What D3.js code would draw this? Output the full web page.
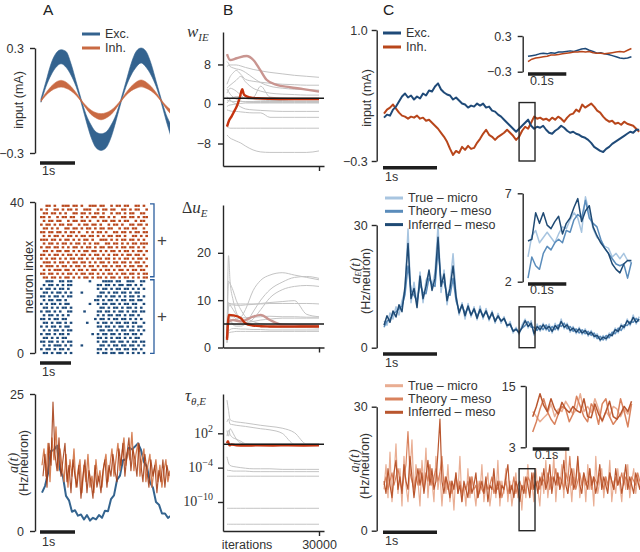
<!DOCTYPE html>
<html>
<head>
<meta charset="utf-8">
<script src="https://d3js.org/d3.v7.min.js"></script>
<style>
  body { margin: 0; background: #fff; }
  svg { display: block; background: #fff; }
  text { font-family: "Liberation Sans", Arial, sans-serif; fill: #333; }
  .tick text { font-size: 12.5px; }
  .axis path, .axis line { stroke: #262626; stroke-width: 1.4px; }
  .math { font-family: "Liberation Serif", "DejaVu Serif", serif; font-style: italic; }
  .grey { fill: none; stroke: #c4c4c4; stroke-width: 1px; }
  .bar { stroke: #1e1e1e; stroke-width: 3.5px; }
  .lbl { font-size: 12.5px; }
</style>
</head>
<body>
<svg width="640" height="552"></svg>
<script>
// ---------- data: panel A ----------
// sinusoidal input band (upper / lower edges), sampled every aTopStep s
const aTopStep = 0.143, aTopStart = 0.029;
const excHi = [0.01, 0.11, 0.21, 0.27, 0.29, 0.28, 0.21, 0.11, 0.01, -0.08, -0.14, -0.18, -0.19, -0.18, -0.14, -0.08, 0.01, 0.11, 0.21, 0.28, 0.30, 0.28, 0.21, 0.11, 0.01, -0.08, -0.14];
const excLo = [-0.01, 0.08, 0.145, 0.19, 0.21, 0.19, 0.145, 0.08, -0.01, -0.115, -0.21, -0.27, -0.285, -0.27, -0.21, -0.115, -0.01, 0.08, 0.145, 0.19, 0.215, 0.19, 0.145, 0.08, -0.01, -0.115, -0.21];
const inhHi = [0.005, 0.045, 0.08, 0.105, 0.115, 0.105, 0.08, 0.045, 0.005, -0.03, -0.055, -0.07, -0.075, -0.07, -0.055, -0.03, 0.005, 0.045, 0.08, 0.105, 0.117, 0.105, 0.08, 0.045, 0.005, -0.03, -0.055];
const inhLo = [-0.005, 0.03, 0.055, 0.07, 0.077, 0.07, 0.055, 0.03, -0.005, -0.045, -0.08, -0.1, -0.11, -0.1, -0.08, -0.045, -0.005, 0.03, 0.055, 0.07, 0.078, 0.07, 0.055, 0.03, -0.005, -0.045, -0.08];

// raster: one string per neuron (top row first), 40 time bins, 1 = spike
const rasterBin = 0.0871;
const inhSpikes = [
  "0011010011 1011010011 1011001011 0110011010",
  "1010011010 1101001110 0101101100 1101011001",
  "0110110101 0011011010 1101001011 0101100110",
  "1101001011 0110010101 1011010100 1101101011",
  "0101101100 1011011010 0101101101 0110010110",
  "1011010110 1100101101 1010010110 1001101101",
  "0110101001 1011010110 1011011001 0110110010",
  "1101101101 0110100101 0110100110 1101011011",
  "0101011010 1101011011 0101011011 0100110101",
  "1110110101 1010101101 0011101010 1101101010",
  "0101101011 0101101010 1100110110 1010110111",
  "1011011010 1011010110 1011011010 1101101010",
  "0110101101 1010101101 1010101101 0110101101",
  "1101011010 1101011010 1101010110 1011011010",
  "1010110101 0110110101 0110110101 0110101101",
  "0111010110 1011011010 1011010110 1101011010",
  "1011101011 0101101011 0101101011 0101101101",
  "0101011101 1010110101 1010110101 1010110110",
  "1101101010 1101011011 0101011010 1101101011",
  "0110110101 1010101101 0110101101 0110101011"
];
const excSpikes = [
  "0011100110 1100000010 0001111011 0011100110",
  "0101101010 1100000000 0110110101 1011010100",
  "1011010110 1000000000 0101101011 0110101010",
  "0110101101 0100010000 0011010110 1101011000",
  "1101011010 1100000000 0110101101 0101101010",
  "0101101101 0000000000 1101011010 1101101100",
  "1010110101 1000000010 0101101101 0110110010",
  "0110101011 0100000000 0011010110 1011010100",
  "1011010100 1100001000 0110110101 1010110110",
  "0101101010 1000000000 0101011011 0101101000",
  "1101011011 0000000000 1011010110 1101010100",
  "0110101101 0100000100 0101101011 0110110010",
  "1010110101 1000000000 0110110101 1010101100",
  "0101011010 1100000000 0011011010 1101101010",
  "1011010110 1000000001 0101101101 0110110100",
  "0110101011 0000000000 0110101011 0101011000",
  "1101101010 1100000000 0101101101 1010110110",
  "0101011101 0100010000 0011010110 1101101010",
  "1011010110 1000000000 0110101011 0110110100",
  "0110101101 0100000000 0101101101 1010101010"
];

// population activity a(t) in Hz/neuron
const aExcStep = 0.0857, aExcStart = 0.057;
const aExc = [7.0, 8.2, 10.5, 14.6, 14.8, 15.6, 11.2, 9.9, 6.4, 5.6, 3.5, 3.8, 2.8, 3.0, 2.1, 2.9, 1.9, 2.4, 2.1, 2.9, 2.4, 3.7, 3.6, 5.8, 6.5, 9.3, 10.1, 12.9, 13.1, 15.2, 14.9, 15.4, 16.0, 14.8, 12.6, 11.7, 8.9, 7.9, 5.3, 4.8, 3.2, 3.2, 2.4, 2.8];
const aInhStep = 0.0571;
const aInhTrue = [12, 15, 10, 16, 9, 17, 13, 19, 11, 15, 12, 9, 14, 8, 13, 10, 15, 8, 11, 13, 7, 12, 9, 14, 8, 10, 7, 13, 9, 11, 8, 12, 14, 9, 12, 15, 10, 13, 16, 11, 14, 17, 12, 15, 13, 18, 11, 14, 16, 10, 13, 15, 9, 12, 14, 8, 11, 13, 9, 12, 8, 11, 13, 9, 11];
const aInhInf = [10, 14, 8, 16, 12, 23.5, 14, 11, 17, 10, 13, 16, 9, 12, 7, 13, 10, 8, 12, 6, 10, 13, 7, 11, 9, 6, 12, 8, 10, 7, 11, 13, 8, 12, 10, 14, 11, 9, 15, 12, 16, 10, 14, 17, 11, 15, 13, 10, 16, 12, 9, 14, 11, 8, 13, 10, 12, 7, 11, 9, 13, 8, 12, 10];

// ---------- data: panel B (learning curves) ----------
const bIters = [0, 500, 1000, 2000, 3000, 4500, 6000, 8500, 11000, 14000, 18000, 22000, 26000, 30000];
const wieGrey = [
  [7.6, 7.8, 7.9, 7.9, 7.9, 7.7, 7.4, 7.0, 6.7, 6.4, 6.1, 5.8, 5.6, 5.4],
  [8.6, 8.2, 7.6, 7.3, 7.1, 6.9, 6.4, 5.3, 4.3, 3.6, 3.2, 3.0, 2.9, 2.8],
  [3.2, 3.5, 3.8, 4.3, 4.8, 5.6, 4.5, 3.2, 2.6, 2.2, 2.0, 1.9, 1.8, 1.8],
  [0.8, 0.7, 0.6, 0.5, 0.5, 0.5, 0.5, 0.5, 0.5, 0.5, 0.5, 0.5, 0.5, 0.5],
  [-1.2, -1.3, -1.4, -1.5, -1.5, -1.6, -1.7, -1.8, -1.8, -2.7, -2.7, -2.7, -2.7, -2.7],
  [-4.6, -4.8, -4.9, -4.9, -4.9, -4.9, -4.9, -4.9, -4.9, -4.9, -4.9, -4.9, -4.9, -4.9],
  [-6.3, -6.6, -6.9, -7.2, -7.5, -7.9, -8.5, -9.3, -9.7, -9.8, -9.8, -9.8, -9.8, -9.5],
  [2.2, 2.8, 3.2, 3.0, 2.6, 1.8, 1.1, 0.9, 0.8, 0.7, 0.7, 0.6, 0.6, 0.6],
  [3.0, 2.5, 2.0, 1.4, 1.0, 0.6, 0.4, 0.3, 0.3, 0.3, 0.3, 0.3, 0.3, 0.3],
  [0.2, 0.6, 1.0, 1.3, 1.5, 1.4, 1.2, 1.3, 3.6, 1.4, 1.2, 1.1, 1.1, 1.1],
  [-0.5, -0.3, -0.2, -0.1, 0.0, 0.1, 0.2, 0.2, 0.2, 0.2, 0.2, 0.2, 0.2, 0.2],
  [1.5, 1.1, 0.8, 0.3, 0.0, -0.6, -1.0, -1.2, -1.3, -1.4, -1.5, -1.5, -1.5, -1.5],
  [4.0, 4.8, 5.5, 6.3, 6.8, 6.0, 5.0, 4.6, 4.4, 4.2, 4.0, 3.9, 3.8, 3.8]
];
const wieRedIters = [0, 700, 1500, 2500, 3150, 3800, 4240, 4700, 5000, 5400, 5870, 7500, 10000, 14000, 20000, 25000, 30000];
const wieRed = [-4.6, -3.3, -2.5, -1.3, -0.5, 0.6, 1.5, 2.6, 3.0, 2.1, 1.7, 1.35, 1.15, 1.05, 1.0, 1.0, 1.0];
const wiePinkIters = [0, 1000, 3150, 6400, 8600, 10800, 12900, 16200, 20500, 24900, 30000];
const wiePink = [10.1, 8.9, 9.25, 9.7, 8.9, 6.9, 4.9, 3.85, 3.4, 3.0, 2.5];
const wieTrue = 1.15;

const duGrey = [
  [1.0, 19.4, 14.0, 10.0, 7.5, 5.8, 5.0, 4.6, 4.4, 4.3, 4.2, 4.2, 4.2, 4.1],
  [2.0, 14.0, 13.5, 12.0, 10.0, 8.0, 6.5, 5.5, 5.0, 4.8, 4.7, 4.6, 4.5, 4.5],
  [3.0, 9.5, 9.0, 8.0, 7.0, 6.5, 8.0, 12.0, 14.2, 15.3, 15.8, 15.3, 14.8, 14.3],
  [2.5, 6.0, 5.5, 4.8, 4.5, 4.5, 5.0, 7.5, 10.0, 12.2, 13.8, 14.8, 15.0, 14.6],
  [3.5, 7.0, 6.0, 5.0, 4.8, 4.8, 5.0, 6.0, 8.0, 10.5, 12.2, 12.9, 13.1, 12.9],
  [4.0, 9.3, 9.3, 9.2, 9.2, 9.2, 9.2, 9.2, 9.2, 9.3, 9.3, 9.3, 9.3, 9.2],
  [3.0, 8.5, 9.0, 9.0, 8.9, 8.9, 9.0, 9.1, 9.3, 9.5, 9.7, 9.9, 7.0, 6.5],
  [2.0, 5.0, 5.5, 5.8, 6.0, 6.2, 6.3, 6.4, 6.5, 6.6, 6.5, 6.5, 6.4, 6.4],
  [1.5, 3.5, 3.8, 4.0, 4.0, 3.9, 3.9, 3.8, 3.8, 3.7, 3.7, 3.7, 3.7, 3.7],
  [1.0, 3.0, 3.2, 3.3, 3.4, 3.4, 3.4, 3.4, 3.4, 3.4, 3.4, 3.4, 3.4, 3.4],
  [2.0, 6.0, 6.5, 6.5, 6.0, 5.5, 5.3, 5.5, 5.8, 6.0, 6.2, 6.2, 6.2, 6.2]
];
const duRedIters = [0, 300, 600, 2000, 4500, 6000, 8500, 11000, 14000, 18000, 22000, 26000, 30000];
const duRed = [1.6, 5.0, 6.9, 6.8, 6.2, 5.1, 4.65, 4.5, 4.45, 4.4, 4.4, 4.45, 4.45];
const duPinkIters = [0, 500, 2000, 4500, 6000, 8500, 11000, 14000, 18000, 30000];
const duPink = [2, 5.5, 5.8, 5.5, 5.8, 6.5, 6.9, 5.8, 4.8, 4.6];
const duTrue = 4.95;

const tauGrey = [
  [6.3e7, 1e6, 2.5e4, 1.3e4, 1e4, 7.9e3, 6.3e3, 4e3, 2.5e3, 1.6e3, 790, 130, 1.3, 1.3],
  [1e4, 3.2e4, 4e3, 3.2e3, 2.5e3, 2e3, 1.6e3, 1e3, 630, 400, 100, 1.3, 1.3, 1.3],
  [32, 316, 63, 16, 10, 4, 1.6, 1.3, 1.3, 1.3, 1.3, 1.3, 1.3, 1.3],
  [316, 32, 630, 100, 10, 2, 1.3, 1.3, 1.3, 1.3, 1.3, 1.3, 1.3, 1.3],
  [7.9e-3, 6.3e-4, 2.5e-4, 1.6e-4, 1.3e-4, 1e-4, 7.9e-5, 6.3e-5, 6.3e-5, 6.3e-5, 5e-5, 5e-5, 5e-5, 5e-5],
  [4e-5, 3.2e-5, 3.2e-5, 2.5e-5, 2.5e-5, 2.5e-5, 2.5e-5, 2e-5, 2e-5, 2e-5, 2e-5, 2e-5, 2e-5, 2e-5],
  [3.2e-6, 3.2e-6, 3.2e-6, 3.2e-6, 3.2e-6, 3.2e-6, 3.2e-6, 3.2e-6, 3.2e-6, 3.2e-6, 3.2e-6, 3.2e-6, 3.2e-6, 3.2e-6],
  [7.9e-12, 7.9e-12, 7.9e-12, 7.9e-12, 7.9e-12, 7.9e-12, 7.9e-12, 7.9e-12, 7.9e-12, 7.9e-12, 7.9e-12, 7.9e-12, 7.9e-12, 7.9e-12],
  [1.3e-14, 1.3e-14, 1.3e-14, 1.3e-14, 1.3e-14, 1.3e-14, 1.3e-14, 1.3e-14, 1.3e-14, 1.3e-14, 1.3e-14, 1.3e-14, 1.3e-14, 1.3e-14]
];
const tauRedIters = [0, 300, 800, 1500, 3000, 6000, 10000, 15000, 20000, 25000, 30000];
const tauRed = [2, 4, 0.8, 1.1, 0.8, 0.7, 0.8, 0.76, 0.8, 0.76, 0.8];
const tauTrue = 1.2;

// ---------- data: panel C ----------
const cStep = 0.0556, cStart = 0.0185;
const cExcInput = [0.13,0.16,0.15,0.21,0.24,0.29,0.34,0.37,0.33,0.35, 0.31,0.34,0.32,0.37,0.35,0.40,0.39,0.44,0.47,0.41, 0.38,0.36,0.35,0.31,0.33,0.30,0.27,0.26,0.23,0.25, 0.24,0.27,0.25,0.27,0.23,0.24,0.20,0.19,0.16,0.14, 0.11,0.08,0.05,0.02,-0.01,0.02,0.05,0.08,0.11,0.05, 0.02,0.04,0.03,0.05,0.01,-0.02,-0.03,0.00,0.02,0.05, 0.03,0.00,-0.02,-0.01,-0.03,-0.04,-0.06,-0.07,-0.09,-0.12, -0.16,-0.18,-0.20,-0.21,-0.18,-0.16,-0.13,-0.11,-0.09,-0.07, -0.05,-0.03,-0.01,-0.02,0.01,0.01];
const cInhInput = [0.17,0.21,0.23,0.26,0.22,0.18,0.15,0.14,0.12,0.14, 0.13,0.15,0.12,0.13,0.10,0.11,0.08,0.05,0.02,-0.02, -0.06,-0.11,-0.18,-0.24,-0.20,-0.22,-0.16,-0.19,-0.15,-0.18, -0.17,-0.12,-0.08,-0.03,0.01,-0.04,-0.06,-0.09,-0.06,-0.04, -0.02,0.01,-0.02,-0.05,-0.09,-0.06,0.00,0.04,0.02,0.08, 0.14,0.12,0.13,0.11,0.12,0.10,0.13,0.11,0.14,0.12, 0.09,0.13,0.16,0.17,0.21,0.19,0.26,0.23,0.25,0.27, 0.24,0.20,0.18,0.14,0.11,0.09,0.10,0.07,0.08,0.06, 0.09,0.07,0.06,0.05,0.02,-0.01];
const insetStep = 0.01;
const cExcInputZoom = [-0.04,-0.03,-0.02,0.0,0.01,0.0,0.02,0.01,0.03,0.03, 0.04,0.05,0.04,0.06,0.08,0.09,0.06,0.04,0.01,0.02, 0.0,-0.01,-0.03,-0.05,-0.07,-0.08,-0.07,-0.05];
const cInhInputZoom = [-0.13,-0.09,-0.07,-0.06,-0.05,-0.04,-0.02,-0.02,-0.01,0.0, 0.01,0.02,0.03,0.03,0.04,0.03,0.04,0.02,0.01,0.01, 0.0,0.01,0.02,0.03,0.04,0.03,0.06,0.09];

const aETrue = [6.5,5.5,8.5,7.0,10.0,8.0,11.5,14.0,29.0,11.0, 16.0,10.5,18.5,11.0,16.5,18.0,15.0,18.5,30.0,13.5, 19.0,10.5,15.5,23.0,13.0,8.0,11.0,7.0,10.8,7.5, 10.0,6.8,10.2,7.0,9.6,6.6,9.0,6.0,8.4,6.0, 7.6,5.0,6.4,3.6,5.0,3.2,5.6,7.0,4.8,6.6, 3.0,5.8,4.0,6.0,4.2,5.8,3.6,6.0,4.2,7.0, 4.6,6.0,3.8,5.2,3.4,5.0,3.2,4.6,2.8,4.2, 2.4,3.4,1.6,3.0,1.8,3.6,2.8,4.8,3.6,5.8, 4.6,7.0,5.4,8.0,5.8,7.6];
const aETheory = [5.0,6.5,7.0,8.2,8.8,9.5,10.2,13.0,20.0,14.0, 12.8,11.5,15.5,13.5,13.2,17.0,15.5,15.0,24.0,16.5, 16.0,13.0,12.8,17.0,11.5,9.0,10.3,8.4,9.8,8.0, 9.4,7.6,9.2,7.8,8.8,7.2,8.2,6.8,7.6,6.6, 7.0,5.6,5.6,4.2,4.6,3.8,4.8,5.4,6.4,5.0, 5.0,4.2,5.4,4.4,5.6,4.0,5.2,4.4,5.6,5.2, 6.0,4.6,5.2,4.0,4.6,3.6,4.4,3.4,4.0,3.0, 3.6,2.2,2.8,1.9,3.0,2.4,3.8,3.4,4.8,4.2, 5.6,5.4,6.4,6.2,7.2,6.4];
const aEInferred = [5.5,7.8,6.2,9.0,7.5,10.5,8.8,15.0,25.5,12.0, 14.5,9.8,17.5,12.0,15.0,19.0,14.0,17.0,27.0,15.0, 18.0,11.5,14.5,20.0,12.5,8.5,10.5,7.8,10.2,8.0, 9.5,7.2,9.4,7.5,9.0,7.0,8.6,6.4,7.8,6.5, 7.2,5.4,5.8,4.0,4.5,3.6,5.0,6.6,5.2,6.0, 3.4,5.2,4.4,5.6,4.6,5.2,4.0,5.4,4.6,6.4, 5.0,5.6,4.2,4.8,3.8,4.6,3.6,4.2,3.2,3.8, 2.8,3.0,1.9,2.6,2.2,3.2,3.0,4.4,4.0,5.4, 5.0,6.6,5.8,7.4,6.2,7.0];
const aETrueZoom = [3.4,4.6,4.9,4.2,4.5,4.8,4.5,4.2,4.7,5.1, 5.0,5.5,5.9,5.6,4.8,6.8,5.9,5.0,4.5,4.3, 4.0,3.9,3.4,3.6,3.3,3.6,3.2,3.1];
const aETheoryZoom = [2.2,3.4,2.9,2.7,3.6,4.0,3.8,4.2,4.4,4.2, 4.9,4.8,5.5,5.8,5.6,6.6,5.6,5.3,5.1,4.4, 3.9,3.6,3.3,3.0,2.9,3.0,2.2,3.1];
const aEInferredZoom = [4.3,4.4,5.9,5.3,5.9,5.2,5.0,5.4,5.7,4.7, 5.3,5.6,6.2,6.7,5.4,6.0,6.3,5.1,4.6,4.2, 3.9,3.6,3.0,2.7,2.5,3.0,3.2,3.2];

// inhibitory activity, sampled on a finer step
const cStepFine = 0.037;
const aITrue = [10,16,8,19,7,13,21,9,15,6, 18,11,7,14,22,9,16,12,6,17, 11,20,8,15,12,7,18,10,14,6, 13,9,16,7,12,5,14,9,18,7, 11,6,15,8,13,10,6,12,9,16, 7,11,14,6,10,13,8,17,6,12, 9,15,7,12,6,10,14,8,11,5, 13,8,16,9,12,7,15,10,6,14, 9,17,8,13,11,18,7,14,10,16, 8,20,9,13,7,15,11,17,8,12, 14,7,16,10,13,6,18,9,12,15, 8,13,10,17,7,12,9,15,11,7, 14,10,16,8,12,15,9,13,11,10];
const aITheory = [11,13,10,12,14,11,13,15,12,10, 13,16,24,14,12,10,13,11,15,12, 10,14,12,16,11,13,15,12,14,18, 11,13,10,12,9,11,13,10,12,9, 11,10,12,9,13,10,11,8,12,10, 9,12,10,11,13,9,11,10,12,8, 10,12,9,11,10,13,9,11,12,10, 11,9,13,12,10,14,11,12,10,13, 12,11,14,10,13,12,15,11,13,12, 10,14,12,18,11,13,10,12,14,11, 13,11,12,15,10,13,12,11,14,12, 10,13,11,14,12,10,13,11,12,14, 11,13,12,10,13,12,11,14,12,11];
const aIInferred = [12,9,15,11,8,14,17,10,13,9, 16,12,10,18,13,8,12,15,11,14, 9,13,17,11,15,10,12,19,27,12, 9,13,11,8,12,10,14,9,11,7, 12,10,8,13,9,11,14,8,10,12, 9,13,7,11,10,15,9,12,8,11, 10,13,16,9,11,8,12,10,7,11, 9,13,11,8,14,10,12,9,13,11, 15,10,12,16,9,13,11,14,10,12, 17,11,9,13,15,10,12,18,11,9, 14,12,10,15,11,13,9,12,16,10, 13,11,9,14,12,10,15,11,13,9, 12,16,10,13,11,9,14,12,10,13];
const aITrueZoom = [10.0,9.0,8.0,8.8,9.5,11.5,9.0,10.5,10.0,12.0, 10.8,9.5,10.5,13.5,10.0,11.0,9.8,12.5,10.5,8.0, 10.0,9.0,11.0,10.5,9.0,10.5,9.5,11.5];
const aITheoryZoom = [6.0,8.0,10.5,12.5,10.0,8.5,7.5,9.5,11.0,10.5, 8.0,9.5,13.0,11.0,9.0,8.0,11.5,10.5,7.5,11.5, 12.5,9.0,7.5,8.5,12.5,10.0,7.0,11.5];
const aIInferredZoom = [9.0,11.0,13.5,11.2,10.0,12.5,10.5,9.5,11.8,10.5, 9.8,11.0,10.2,9.8,12.5,9.0,8.8,11.5,9.5,8.2, 10.0,12.0,9.0,8.5,9.5,11.0,10.0,12.0];

const zoomWindow = [2.52, 2.815];

// ---------- drawing ----------
const svg = d3.select('svg');
const defs = svg.append('defs');
defs.append('clipPath').attr('id', 'clipA').append('rect')
    .attr('x', 36).attr('y', 0).attr('width', 134).attr('height', 552);
defs.append('clipPath').attr('id', 'clipC').append('rect')
    .attr('x', 378).attr('y', 0).attr('width', 262).attr('height', 552);

let yAxis = function(scale, x, ticks, pad, fmt) {
    return svg.append('g').attr('class', 'axis')
        .attr('transform', 'translate(' + x + ',0)')
        .call(d3.axisLeft(scale).tickValues(ticks).tickSize(5).tickSizeOuter(0)
            .tickPadding(pad).tickFormat(fmt || (d => d3.format('')(d))));
};

let trace = function(vals, x, y, t0, dt, color, w, clip, opacity) {
    svg.append('path').datum(vals)
        .attr('d', d3.line().x((d, i) => x(t0 + i * dt)).y(d => y(d)))
        .attr('fill', 'none').attr('stroke', color).attr('stroke-width', w)
        .attr('stroke-linejoin', 'round')
        .attr('opacity', opacity || 1)
        .attr('clip-path', clip ? 'url(#' + clip + ')' : null);
};

let band = function(hi, lo, x, y, color) {
    let pts = hi.map((h, i) => [aTopStart + i * aTopStep, h, lo[i]]);
    svg.append('path').datum(pts)
        .attr('d', d3.area().curve(d3.curveMonotoneX)
            .x(d => x(d[0])).y0(d => y(d[2])).y1(d => y(d[1])))
        .attr('fill', color).attr('stroke', color).attr('stroke-width', 0.6)
        .attr('clip-path', 'url(#clipA)');
};

let scaleBar = function(x, len, y, label, labelY) {
    svg.append('line').attr('class', 'bar')
        .attr('x1', x(0)).attr('x2', x(len)).attr('y1', y).attr('y2', y);
    svg.append('text').attr('class', 'lbl')
        .attr('x', x(0) + 2).attr('y', labelY).text(label);
};

let legend = function(x, y0, dy, items) {
    items.forEach((it, i) => {
        svg.append('line').attr('x1', x).attr('x2', x + 18)
            .attr('y1', y0 + i * dy).attr('y2', y0 + i * dy)
            .attr('stroke', it[1]).attr('stroke-width', 3);
        svg.append('text').attr('class', 'lbl').attr('x', x + 23).attr('y', y0 + i * dy)
            .attr('dominant-baseline', 'central').text(it[0]);
    });
};

let vlabel = function(cx, cy, parts, cls, size) {
    let t = svg.append('text')
        .attr('transform', 'translate(' + cx + ',' + cy + ') rotate(-90)')
        .attr('text-anchor', 'middle').attr('dominant-baseline', 'central')
        .attr('class', cls || null).style('font-size', (size || 12.5) + 'px');
    parts.forEach(p => {
        let s = t.append('tspan').text(p[0]);
        if (p[1]) s.attr('dy', p[1]);
        if (p[2]) s.style('font-size', p[2] + 'px');
    });
};

// panel letters
[['A', 43], ['B', 223], ['C', 383]].forEach(p => {
    svg.append('text').attr('x', p[1]).attr('y', 15).style('font-size', '15.5px')
        .style('fill', '#222').text(p[0]);
});

// ===== A top: sinusoidal input =====
const xA = d3.scaleLinear().domain([0, 1]).range([40, 75]);
const yA1 = d3.scaleLinear().domain([-0.3, 0.3]).range([153, 48]);
band(excHi, excLo, xA, yA1, '#34638f');
band(inhHi, inhLo, xA, yA1, '#c96a43');
yAxis(yA1, 35, [-0.3, 0.3], 6, d3.format('.1f'));
vlabel(19, 100, [['input (mA)']]);
scaleBar(xA, 1, 163, '1s', 175);
legend(82, 34, 14, [['Exc.', '#34638f'], ['Inh.', '#c96a43']]);

// ===== A middle: raster =====
const xR = d3.scaleLinear().domain([0, 1]).range([40, 71]);
const yR = d3.scaleLinear().domain([0, 40]).range([353, 202]);
let drawRaster = function(rows, topNeuron, color) {
    rows.forEach((r, k) => {
        let bits = r.replace(/ /g, '');
        let n = topNeuron - k;
        bits.split('').forEach((b, j) => {
            if (b !== '1') return;
            svg.append('rect')
                .attr('x', xR((j + 0.5) * rasterBin) - 1.3).attr('y', yR(n) - 1.1)
                .attr('width', 2.6).attr('height', 2.2).attr('fill', color);
        });
    });
};
drawRaster(inhSpikes, 39, '#b9471c');
drawRaster(excSpikes, 19, '#1d4a7a');
yAxis(yR, 35, [0, 40], 6);
vlabel(29, 277, [['neuron index']]);
scaleBar(xR, 1, 363, '1s', 376);
[[39.5, 20.2], [19.4, -0.1]].forEach(b => {
    svg.append('path')
        .attr('d', 'M150,' + yR(b[0]) + 'H154V' + yR(b[1]) + 'H150')
        .attr('fill', 'none').attr('stroke', '#2d5f9e').attr('stroke-width', 1.3);
    svg.append('text').attr('x', 162).attr('y', (yR(b[0]) + yR(b[1])) / 2)
        .attr('text-anchor', 'middle').attr('dominant-baseline', 'central')
        .style('font-size', '17px').style('fill', '#444').text('+');
});

// ===== A bottom: population activity =====
const yA3 = d3.scaleLinear().domain([0, 25]).range([531, 394]);
trace(aExc, xA, yA3, aExcStart, aExcStep, '#34648f', 2, 'clipA');
trace(aInhTrue, xA, yA3, aExcStart, aInhStep, '#d27243', 1.3, 'clipA', 0.9);
trace(aInhInf, xA, yA3, aExcStart + 0.0286, aInhStep, '#a2380f', 1.2, 'clipA', 0.85);
yAxis(yA3, 35, [0, 25], 6);
vlabel(13, 463, [['a(t)']], 'math', 14);
vlabel(24, 463, [['(Hz/neuron)']]);
scaleBar(xA, 1, 532, '1s', 546);

// ===== B panels =====
const xB = d3.scaleLinear().domain([-1304, 31630]).range([223, 324]);
let learnPanel = function(y, greys, redIt, red, pinkIt, pink, truth, xlabel) {
    let line = d3.line().curve(d3.curveMonotoneX).x(d => xB(d[0])).y(d => y(d[1]));
    greys.forEach(g => {
        svg.append('path').attr('class', 'grey')
            .attr('d', line(g.map((v, i) => [bIters[i], v])));
    });
    if (pink) {
        svg.append('path').attr('d', line(pink.map((v, i) => [pinkIt[i], v])))
            .attr('fill', 'none').attr('stroke', '#c99590').attr('stroke-width', 2.4);
    }
    svg.append('path').attr('d', line(red.map((v, i) => [redIt[i], v])))
        .attr('fill', 'none').attr('stroke', '#c5330f').attr('stroke-width', 2.4);
    svg.append('line').attr('x1', xB.range()[0]).attr('x2', xB.range()[1])
        .attr('y1', y(truth)).attr('y2', y(truth))
        .attr('stroke', '#1a1a1a').attr('stroke-width', 1.5);
    let ya = y.range()[0];
    svg.append('g').attr('class', 'axis').attr('transform', 'translate(0,' + ya + ')')
        .call(d3.axisBottom(xB).tickValues([30000]).tickSize(5).tickSizeOuter(0)
            .tickPadding(4).tickFormat(xlabel ? d3.format('d') : () => ''));
};

const yB1 = d3.scaleLinear().domain([-12.55, 14.57]).range([166, 32]);
learnPanel(yB1, wieGrey, wieRedIters, wieRed, wiePinkIters, wiePink, wieTrue, false);
yAxis(yB1, 223, [-8, 0, 8], 7);
svg.append('text').attr('class', 'math').attr('x', 187).attr('y', 37)
    .call(t => {
        t.append('tspan').style('font-size', '17px').text('w');
        t.append('tspan').style('font-size', '11px').attr('dy', 4).text('IE');
    });

const yB2 = d3.scaleLinear().domain([0, 30.1]).range([347.5, 205]);
learnPanel(yB2, duGrey, duRedIters, duRed, duPinkIters, duPink, duTrue, false);
yAxis(yB2, 223, [0, 10, 20], 7);
svg.append('text').attr('class', 'math').attr('x', 182).attr('y', 213)
    .call(t => {
        t.append('tspan').style('font-size', '16px').style('font-style', 'normal').text('Δ');
        t.append('tspan').style('font-size', '17px').text('u');
        t.append('tspan').style('font-size', '11px').attr('dy', 4).text('E');
    });

const yB3 = d3.scaleLog().domain([8.5e-16, 7.4e8]).range([531, 394]);
learnPanel(yB3, tauGrey, tauRedIters, tauRed, null, null, tauTrue, true);
yAxis(yB3, 223, [1e-10, 1e-4, 1e2], 7, () => '');
[[1e2, '2'], [1e-4, '−4'], [1e-10, '−10']].forEach(tk => {
    let t = svg.append('text').attr('x', 213).attr('y', yB3(tk[0]) + 4.5)
        .attr('text-anchor', 'end').style('font-family', '"Liberation Serif", serif')
        .style('font-size', '14px');
    t.append('tspan').text('10');
    t.append('tspan').attr('dy', -6).style('font-size', '10px').text(tk[1]);
});
svg.append('text').attr('class', 'math').attr('x', 185).attr('y', 401)
    .call(t => {
        t.append('tspan').style('font-size', '17px').text('τ');
        t.append('tspan').style('font-size', '11px').attr('dy', 4).text('θ,E');
    });
svg.append('text').attr('class', 'lbl').attr('x', 247).attr('y', 549)
    .attr('text-anchor', 'middle').text('iterations');

// ===== C panels =====
const xC = d3.scaleLinear().domain([0, 1]).range([383, 437]);
const xIn = d3.scaleLinear().domain([0, 0.1]).range([528, 566.3]);
const xIn3 = d3.scaleLinear().domain([0, 0.1]).range([532.7, 569.3]);

let zoomBox = function(y, lo, hi) {
    svg.append('rect').attr('x', xC(zoomWindow[0])).attr('y', y(hi))
        .attr('width', xC(zoomWindow[1]) - xC(zoomWindow[0])).attr('height', y(lo) - y(hi))
        .attr('fill', 'none').attr('stroke', '#262626').attr('stroke-width', 1.4);
};

// C top: input currents
const yC1 = d3.scaleLinear().domain([-0.3, 1.0]).range([161, 30]);
trace(cInhInput, xC, yC1, cStart, cStep, '#b8461b', 2, 'clipC');
trace(cExcInput, xC, yC1, cStart, cStep, '#1f4a78', 2, 'clipC');
zoomBox(yC1, -0.3, 0.28);
yAxis(yC1, 376.7, [-0.3, 1.0], 4, d3.format('.1f'));
vlabel(367, 98, [['input (mA)']]);
scaleBar(xC, 1, 167.7, '1s', 181);
legend(383, 33, 14, [['Exc.', '#1f4a78'], ['Inh.', '#b8461b']]);
const yC1i = d3.scaleLinear().domain([-0.3, 0.3]).range([71.7, 36]);
trace(cExcInputZoom, xIn, yC1i, 0, insetStep, '#1f4a78', 1.5);
trace(cInhInputZoom, xIn, yC1i, 0, insetStep, '#b8461b', 1.5);
yAxis(yC1i, 522.7, [-0.3, 0.3], 6, d3.format('.1f'));
scaleBar(xIn, 0.1, 74, '0.1s', 85);

// C middle: excitatory activity
const blues = ['#a8c5e0', '#5a8cbb', '#1f4a74'];
const yC2 = d3.scaleLinear().domain([0, 30]).range([347.7, 225]);
[aETrue, aETheory, aEInferred].forEach((s, i) =>
    trace(s, xC, yC2, cStart, cStep, blues[i], 1.5, 'clipC'));
zoomBox(yC2, 0, 10);
yAxis(yC2, 376.7, [0, 30], 4);
vlabel(355, 271, [['a'], ['E', 3, 9], ['(t)', -3, 14]], 'math', 14);
vlabel(366, 281, [['(Hz/neuron)']]);
scaleBar(xC, 1, 354, '1s', 367);
legend(385, 198, 13.3, [['True – micro', blues[0]], ['Theory – meso', blues[1]], ['Inferred – meso', blues[2]]]);
const yC2i = d3.scaleLinear().domain([2, 7]).range([281.7, 193.3]);
[aETrueZoom, aETheoryZoom, aEInferredZoom].forEach((s, i) =>
    trace(s, xIn, yC2i, 0, insetStep, blues[i], 1.5));
yAxis(yC2i, 522.7, [2, 7], 6);
scaleBar(xIn, 0.1, 284, '0.1s', 294);

// C bottom: inhibitory activity
const oranges = ['#e9ad92', '#d9825d', '#b9562e'];
const yC3 = d3.scaleLinear().domain([0, 30]).range([530.7, 406.7]);
[aITrue, aITheory, aIInferred].forEach((s, i) =>
    trace(s, xC, yC3, cStart, cStepFine, oranges[i], 1.2, 'clipC'));
zoomBox(yC3, 0, 15);
yAxis(yC3, 376.7, [0, 30], 4);
vlabel(354, 461, [['a'], ['I', 3, 9], ['(t)', -3, 14]], 'math', 14);
vlabel(365, 466, [['(Hz/neuron)']]);
scaleBar(xC, 1, 532.3, '1s', 545);
legend(385, 385.7, 13.3, [['True – micro', oranges[0]], ['Theory – meso', oranges[1]], ['Inferred – meso', oranges[2]]]);
const yC3i = d3.scaleLinear().domain([3, 15]).range([447.3, 386]);
[aITrueZoom, aITheoryZoom, aIInferredZoom].forEach((s, i) =>
    trace(s, xIn3, yC3i, 0, insetStep, oranges[i], 1.5));
yAxis(yC3i, 525.7, [3, 15], 5);
scaleBar(xIn3, 0.1, 449, '0.1s', 459);
</script>
</body>
</html>
